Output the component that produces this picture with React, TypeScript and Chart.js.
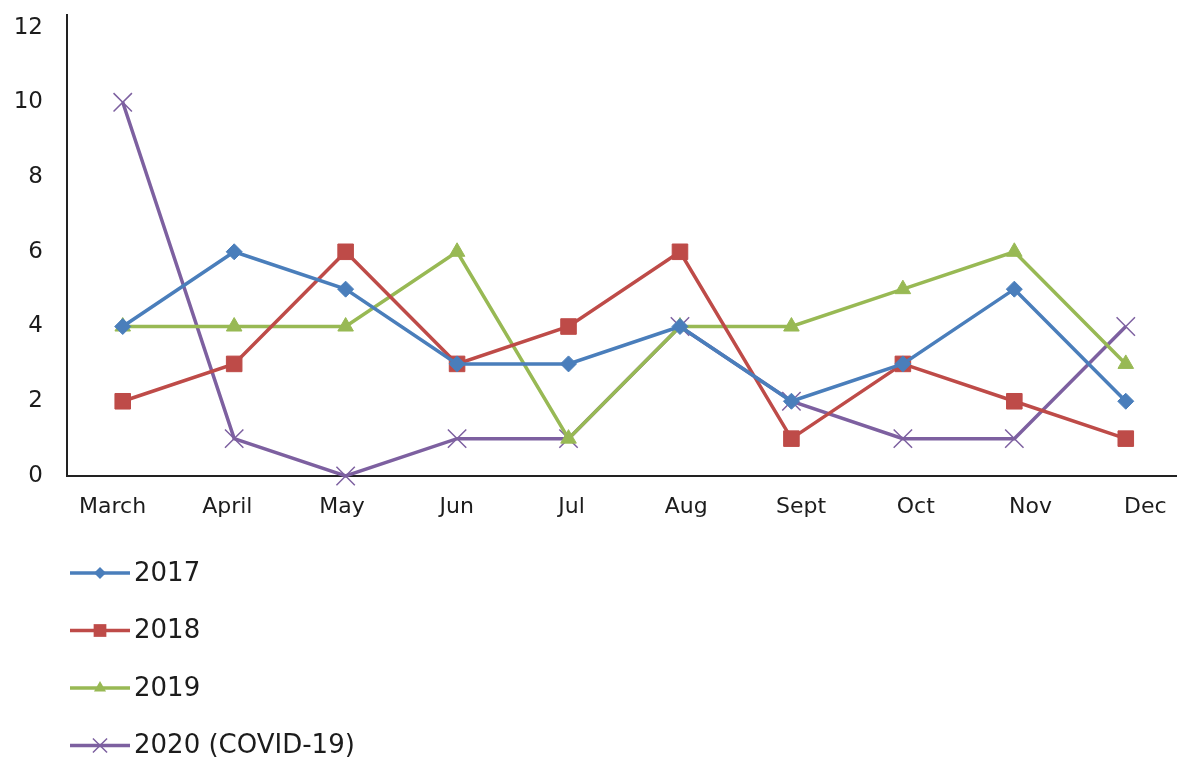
import React, { useEffect, useRef } from 'react';
import { Chart, registerables } from 'chart.js';

Chart.register(...registerables);

const months = ['March', 'April', 'May', 'Jun', 'Jul', 'Aug', 'Sept', 'Oct', 'Nov', 'Dec'];
const values2017 = [4, 6, 5, 3, 3, 4, 2, 3, 5, 2];
const values2018 = [2, 3, 6, 3, 4, 6, 1, 3, 2, 1];
const values2019 = [4, 4, 4, 6, 1, 4, 4, 5, 6, 3];
const values2020 = [10, 1, 0, 1, 1, 4, 2, 1, 1, 4];
const seriesNames = ['2017', '2018', '2019', '2020 (COVID-19)'];
const yTickValues = [0, 2, 4, 6, 8, 10, 12];

const FONT = "'DejaVu Sans', Verdana, sans-serif";
const TEXT = '#1c1c1c';

const seriesStyles = [
  { color: '#4A7EBB', point: 'rectRot', radius: 8, legendR: 6, pbw: 1 },
  { color: '#BE4B48', point: 'rect', radius: 11, legendR: 9, pbw: 1 },
  { color: '#98B954', point: 'triangle', radius: 9, legendR: 7, pbw: 1 },
  { color: '#7D60A0', point: 'crossRot', radius: 13, legendR: 10, pbw: 1.5 },
];

function drawMarker(ctx: CanvasRenderingContext2D, style: string, x: number, y: number, r: number, color: string, lw: number) {
  ctx.save();
  ctx.fillStyle = color;
  ctx.strokeStyle = color;
  ctx.lineWidth = lw;
  ctx.beginPath();
  if (style === 'rectRot') {
    ctx.moveTo(x - r, y);
    ctx.lineTo(x, y - r);
    ctx.lineTo(x + r, y);
    ctx.lineTo(x, y + r);
    ctx.closePath();
    ctx.fill();
  } else if (style === 'rect') {
    const s = Math.SQRT1_2 * r;
    ctx.rect(x - s, y - s, 2 * s, 2 * s);
    ctx.fill();
  } else if (style === 'triangle') {
    for (let k = 0; k < 3; k++) {
      const a = (k * 2 * Math.PI) / 3;
      const px = x + Math.sin(a) * r;
      const py = y - Math.cos(a) * r;
      if (k === 0) ctx.moveTo(px, py);
      else ctx.lineTo(px, py);
    }
    ctx.closePath();
    ctx.fill();
  } else {
    const o = Math.SQRT1_2 * r;
    ctx.moveTo(x - o, y - o);
    ctx.lineTo(x + o, y + o);
    ctx.moveTo(x + o, y - o);
    ctx.lineTo(x - o, y + o);
    ctx.stroke();
  }
  ctx.restore();
}

const legendPlugin = {
  id: 'verticalLegend',
  afterDraw(chart: any) {
    const ctx: CanvasRenderingContext2D = chart.ctx;
    const bottom = chart.chartArea.bottom;
    chart.data.datasets.forEach((ds: any, i: number) => {
      const st = seriesStyles[i];
      const y = bottom + 97 + i * 57.5;
      ctx.save();
      ctx.strokeStyle = st.color;
      ctx.lineWidth = 3.5;
      ctx.beginPath();
      ctx.moveTo(70, y);
      ctx.lineTo(130, y);
      ctx.stroke();
      ctx.restore();
      drawMarker(ctx, st.point, 100, y, st.legendR, st.color, st.pbw);
      ctx.save();
      ctx.fillStyle = TEXT;
      ctx.font = `26px ${FONT}`;
      ctx.textAlign = 'left';
      ctx.textBaseline = 'middle';
      ctx.fillText(ds.label, 134, y + 1);
      ctx.restore();
    });
  },
};

export default function App() {
  const canvasRef = useRef<HTMLCanvasElement | null>(null);

  useEffect(() => {
    if (!canvasRef.current) return;
    const allValues = [values2017, values2018, values2019, values2020];
    const chart = new Chart(canvasRef.current, {
      type: 'line',
      data: {
        labels: months,
        datasets: allValues.map((vals, i) => ({
          label: seriesNames[i],
          data: vals,
          borderColor: seriesStyles[i].color,
          backgroundColor: seriesStyles[i].color,
          borderWidth: 3.5,
          pointStyle: seriesStyles[i].point as any,
          pointRadius: seriesStyles[i].radius,
          pointBackgroundColor: seriesStyles[i].color,
          pointBorderColor: seriesStyles[i].color,
          pointBorderWidth: seriesStyles[i].pbw,
          tension: 0,
          fill: false,
          clip: false as any,
          xAxisID: 'x',
          yAxisID: 'y',
        })),
      },
      options: {
        responsive: false,
        devicePixelRatio: 1,
        animation: false,
        layout: { padding: { top: 14, right: 2, left: 0, bottom: 0 } },
        plugins: {
          legend: { display: false },
          tooltip: { enabled: false },
        },
        scales: {
          x: {
            type: 'category',
            display: false,
            offset: true,
          },
          xl: {
            type: 'linear',
            position: 'bottom',
            min: -0.397,
            max: 9.316,
            afterBuildTicks: (scale: any) => {
              scale.ticks = months.map((_, i) => ({ value: i }));
            },
            afterFit: (scale: any) => {
              scale.height = 287;
              scale.paddingLeft = 0;
              scale.paddingRight = 0;
            },
            grid: { display: false, drawTicks: false },
            border: { display: true, color: '#222', width: 2 },
            ticks: {
              autoSkip: false,
              maxRotation: 0,
              padding: 18,
              color: TEXT,
              font: { family: FONT, size: 22 },
              callback: (v: any) => months[Math.round(Number(v))] ?? '',
            },
          },
          y: {
            type: 'linear',
            min: 0,
            max: 12.35,
            afterBuildTicks: (scale: any) => {
              scale.ticks = yTickValues.map((v) => ({ value: v }));
            },
            afterFit: (scale: any) => {
              scale.width = 67;
              scale.paddingTop = 0;
              scale.paddingBottom = 0;
            },
            grid: { display: false, drawTicks: false },
            border: { display: true, color: '#222', width: 2 },
            ticks: {
              padding: 24,
              color: TEXT,
              font: { family: FONT, size: 23 },
            },
          },
        },
      },
      plugins: [legendPlugin],
    });
    return () => chart.destroy();
  }, []);

  return (
    <div
      style={{
        position: 'fixed',
        left: 0,
        top: 0,
        width: 1177,
        height: 763,
        overflow: 'hidden',
        background: '#ffffff',
      }}
    >
      <canvas ref={canvasRef} width={1196} height={763} style={{ display: 'block', width: 1196, height: 763 }} />
    </div>
  );
}
